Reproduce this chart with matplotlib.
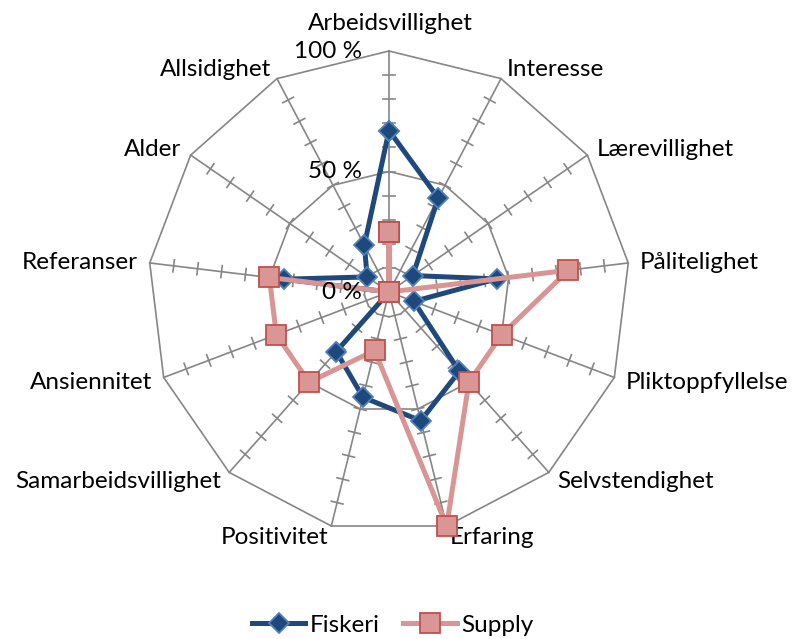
import matplotlib.pyplot as plt
import numpy as np

categories = ['Arbeidsvillighet', 'Interesse', 'Lærevillighet', 'Pålitelighet',
              'Pliktoppfyllelse', 'Selvstendighet', 'Erfaring', 'Positivitet',
              'Samarbeidsvillighet', 'Ansiennitet', 'Referanser', 'Alder', 'Allsidighet']
fiskeri = [67, 44, 12, 45, 11, 44, 55, 45, 33, 0, 44, 11, 22]
supply = [25, 0, 0, 75, 50, 50, 100, 25, 50, 50, 50, 0, 0]
pct_ticks = [0, 50, 100]
pct_labels = ['0 %', '50 %', '100 %']

plt.rcParams['font.family'] = ['Lato', 'DejaVu Sans']
FS = 17.5

W, H = 792, 639
cx, cy, R = 389, 347, 241   # centre (pixels from bottom-left) and radius

fig = plt.figure(figsize=(W / 100, H / 100), dpi=100)
ax = fig.add_axes([0, 0, 1, 1])
ax.set_xlim(-cx / R, (W - cx) / R)
ax.set_ylim(-cy / R, (H - cy) / R)
ax.set_aspect('equal')
ax.axis('off')

n = len(categories)
ang = np.arange(n) * 2 * np.pi / n
sx, sy = np.sin(ang), np.cos(ang)

def to_xy(vals):
    v = np.asarray(vals, dtype=float) / 100
    return np.append(v * sx, v[0] * sx[0]), np.append(v * sy, v[0] * sy[0])

grid = '#868686'
# polygon grid at 50 % and 100 %
for lev in [50, 100]:
    gx, gy = to_xy([lev] * n)
    ax.plot(gx, gy, color=grid, lw=1.2, zorder=1)
# spokes and tick marks every 10 %
tl = 6 / R
for k in range(n):
    ax.plot([0, sx[k]], [0, sy[k]], color=grid, lw=1.2, zorder=1)
    px, py = sy[k], -sx[k]
    for t in np.arange(10, 100, 10) / 100:
        ax.plot([t * sx[k] - tl * px, t * sx[k] + tl * px],
                [t * sy[k] - tl * py, t * sy[k] + tl * py], color=grid, lw=1.2, zorder=1)

for v, lab in zip(pct_ticks, pct_labels):
    ax.text(-27 / R, v / 100, lab, ha='right', va='center', fontsize=FS, color='black', zorder=6)

# category labels
for k, lab in enumerate(categories):
    x, y = sx[k], sy[k]
    if k == 0:
        ax.text(x + 1 / R, y + 27 / R, lab, ha='center', va='center', fontsize=FS)
        continue
    ox = 12 / R * x
    oy = 11 / R * y - 1 / R
    ha = 'left' if x > 0 else 'right'
    ax.text(x + ox, y + oy, lab, ha=ha, va='center', fontsize=FS)

fx, fy = to_xy(fiskeri)
ax.plot(fx, fy, color='#1F497D', lw=3.6, marker='D', ms=10.5, mfc='#1F497D',
        mec='#4F81BD', mew=1.3, label='Fiskeri', zorder=3)
spx, spy = to_xy(supply)
ax.plot(spx, spy, color='#D99594', lw=3.6, marker='s', ms=14, mfc='#D99694',
        mec='#C0504D', mew=1.3, label='Supply', zorder=4)

ax.legend(loc='center', bbox_to_anchor=(0.496, 1 - 625 / H), bbox_transform=fig.transFigure,
          ncol=2, frameon=False, fontsize=FS, handlelength=2.2, handletextpad=0.2,
          columnspacing=0.95, borderpad=0)

fig.savefig('out.png', dpi=100)
